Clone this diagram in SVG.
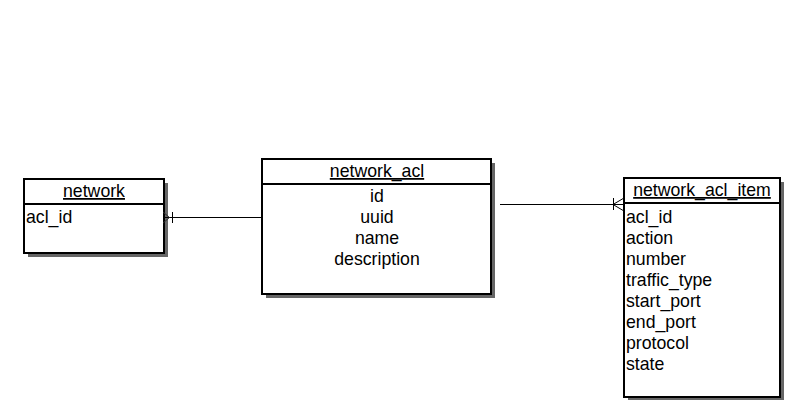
<svg xmlns="http://www.w3.org/2000/svg" width="800" height="400" viewBox="0 0 800 400">
<style>
.shadow{fill:#666666;stroke:none}
.box{fill:#ffffff;stroke:#000000;stroke-width:2}
.div{stroke:#000000;stroke-width:2}
text{font-family:"Liberation Sans",Arial,sans-serif;font-size:17.7px;fill:#000000}
.hdr{text-anchor:middle;text-decoration:underline}
.mid{text-anchor:middle}
.conn{stroke:#000000;stroke-width:1;fill:none}
</style>
<rect x="0" y="0" width="800" height="400" fill="#ffffff"/>
<g id="network">
<rect class="shadow" x="28" y="183" width="140" height="74"/>
<rect class="box" x="24" y="179" width="140" height="74"/>
<line class="div" x1="24" y1="204" x2="164" y2="204"/>
<text class="hdr" x="94" y="197">network</text>
<text x="26" y="223">acl_id</text>
</g>
<g id="network_acl">
<rect class="shadow" x="266" y="163" width="229" height="135"/>
<rect class="box" x="262" y="159" width="229" height="135"/>
<line class="div" x1="262" y1="184" x2="491" y2="184"/>
<text class="hdr" x="377" y="177">network_acl</text>
<text class="mid" x="377" y="202">id</text>
<text class="mid" x="377" y="223">uuid</text>
<text class="mid" x="377" y="244">name</text>
<text class="mid" x="377" y="265">description</text>
</g>
<g id="network_acl_item">
<rect class="shadow" x="628" y="182" width="156" height="220"/>
<rect class="box" x="624" y="178" width="156" height="219"/>
<line class="div" x1="624" y1="203" x2="780" y2="203"/>
<text class="hdr" x="702" y="196">network_acl_item</text>
<text x="626" y="223">acl_id</text>
<text x="626" y="244">action</text>
<text x="626" y="265">number</text>
<text x="626" y="286">traffic_type</text>
<text x="626" y="307">start_port</text>
<text x="626" y="328">end_port</text>
<text x="626" y="349">protocol</text>
<text x="626" y="370">state</text>
</g>
<g id="connectors">
<line class="conn" x1="164" y1="217.5" x2="262" y2="217.5"/>
<polyline points="163,212 169.5,217.5 163,223" fill="none" stroke="#2a2a2a" stroke-width="1"/>
<line class="conn" x1="172.5" y1="212" x2="172.5" y2="223"/>
<line class="conn" x1="500" y1="204.5" x2="624" y2="204.5"/>
<polyline class="conn" points="624,198 613,204.5 624,211"/>
<line class="conn" x1="613.5" y1="198" x2="613.5" y2="210"/>
</g>
</svg>
